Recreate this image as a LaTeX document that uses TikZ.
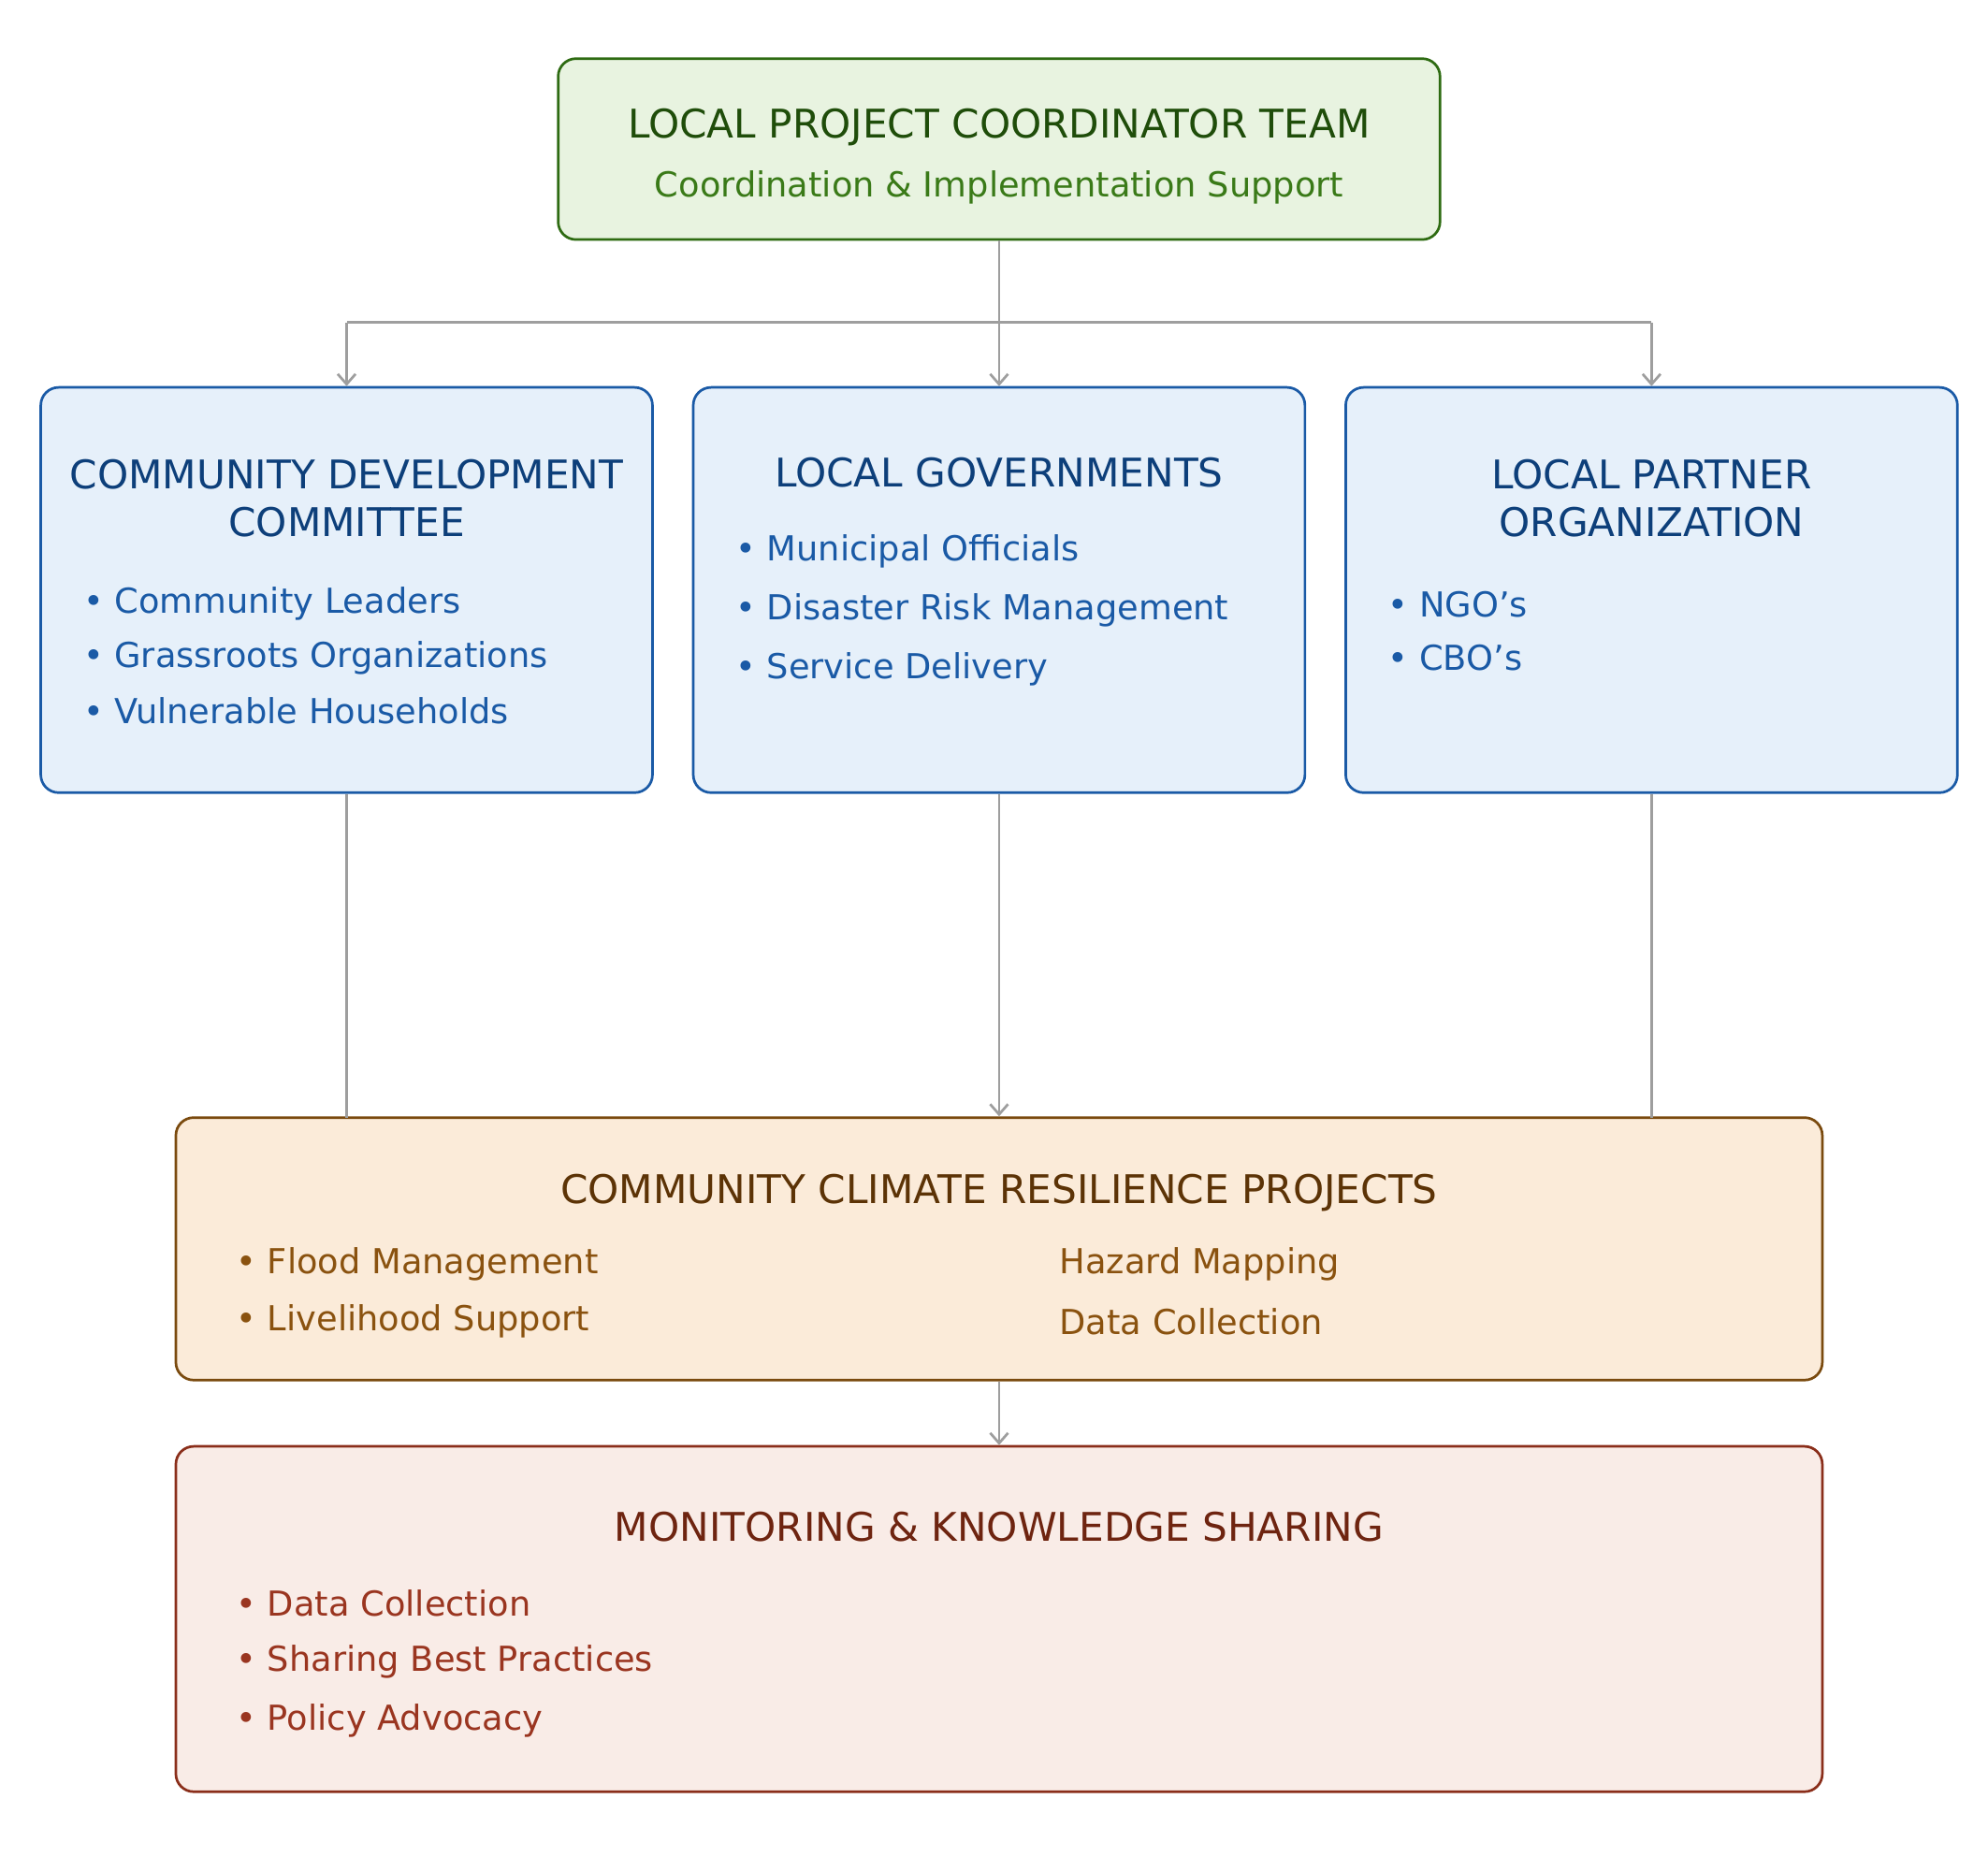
\documentclass[tikz,border=0pt]{standalone}
\usepackage{fontspec}
\setmainfont{DejaVu Sans}
\usetikzlibrary{arrows.meta}
\definecolor{gfill}{HTML}{E8F3E0}
\definecolor{gdraw}{HTML}{2E6B12}
\definecolor{gtext}{HTML}{1F4D0A}
\definecolor{gsub}{HTML}{3A7A18}
\definecolor{bfill}{HTML}{E6F0FA}
\definecolor{bdraw}{HTML}{1A5AA6}
\definecolor{btext}{HTML}{0D3F7A}
\definecolor{ofill}{HTML}{FBEBD9}
\definecolor{odraw}{HTML}{7A4A0E}
\definecolor{otext}{HTML}{5C3306}
\definecolor{obul}{HTML}{8A520F}
\definecolor{rfill}{HTML}{F9ECE7}
\definecolor{rdraw}{HTML}{8A2E1A}
\definecolor{rtext}{HTML}{6E2410}
\definecolor{rbul}{HTML}{9A3520}
\definecolor{conn}{HTML}{9E9E9E}
\tikzset{
  box/.style={rectangle, rounded corners=7pt, line width=1pt},
  ttl/.style={inner sep=0pt, font=\fontsize{15.5}{19}\selectfont, align=center},
  bul/.style={inner sep=0pt, anchor=west, font=\fontsize{13.5}{16}\selectfont},
  link/.style={draw=conn, line width=1pt},
  arr/.style={link, -{Straight Barb[length=4pt,width=7pt]}}
}
\begin{document}
\begin{tikzpicture}[x=0.5pt, y=-0.5pt]
\useasboundingbox (0,0) rectangle (1560,1468);
% boxes
\node (top) [box, fill=gfill, draw=gdraw, minimum width=346pt, minimum height=71pt] at (784,117) {};
\node (cdc) [box, fill=bfill, draw=bdraw, minimum width=240pt, minimum height=159pt] at (272,463) {};
\node (lg) [box, fill=bfill, draw=bdraw, minimum width=240pt, minimum height=159pt] at (784,463) {};
\node (lpo) [box, fill=bfill, draw=bdraw, minimum width=240pt, minimum height=159pt] at (1296,463) {};
\node (ccr) [box, fill=ofill, draw=odraw, minimum width=646pt, minimum height=103pt] at (784,980) {};
\node (mks) [box, fill=rfill, draw=rdraw, minimum width=646pt, minimum height=135.5pt] at (784,1270.5) {};
% texts
\node (toptitle) [ttl, text=gtext] at (784,100) {LOCAL PROJECT COORDINATOR TEAM};
\node (topsub) [ttl, text=gsub, font=\fontsize{13.5}{16}\selectfont] at (784,147) {Coordination \& Implementation Support};
\node (cdctitle) [ttl, text=btext] at (272,391) {COMMUNITY DEVELOPMENT\\COMMITTEE};
\node [bul, text=bdraw] at (65,474) {• Community Leaders};
\node [bul, text=bdraw] at (65,516) {• Grassroots Organizations};
\node [bul, text=bdraw] at (65,558) {• Vulnerable Households};
\node (lgtitle) [ttl, text=btext] at (784,371) {LOCAL GOVERNMENTS};
\node [bul, text=bdraw] at (577,433) {• Municipal Officials};
\node [bul, text=bdraw] at (577,479) {• Disaster Risk Management};
\node [bul, text=bdraw] at (577,525) {• Service Delivery};
\node (lpotitle) [ttl, text=btext] at (1296,391) {LOCAL PARTNER\\ORGANIZATION};
\node [bul, text=bdraw] at (1089,474) {• NGO's};
\node [bul, text=bdraw] at (1089,516) {• CBO's};
\node (ccrtitle) [ttl, text=otext] at (784,936) {COMMUNITY CLIMATE RESILIENCE PROJECTS};
\node [bul, text=obul] at (185,992) {• Flood Management};
\node [bul, text=obul] at (185,1037) {• Livelihood Support};
\node [bul, text=obul] at (831,992) {Hazard Mapping};
\node [bul, text=obul] at (831,1037) {Data Collection};
\node (mkstitle) [ttl, text=rtext] at (784,1198) {MONITORING \& KNOWLEDGE SHARING};
\node [bul, text=rbul] at (185,1258) {• Data Collection};
\node [bul, text=rbul] at (185,1304) {• Sharing Best Practices};
\node [bul, text=rbul] at (185,1350) {• Policy Advocacy};
% connectors
\coordinate (jc) at (784,253);
\coordinate (jl) at (272,253);
\coordinate (jr) at (1296,253);
\coordinate (el) at (272,877);
\coordinate (er) at (1296,877);
\draw [link] (top.south) -- (jc);
\draw [link] (jl) -- (jr);
\draw [arr] (jl) -- (cdc.north);
\draw [arr] (jc) -- (lg.north);
\draw [arr] (jr) -- (lpo.north);
\draw [link] (cdc.south) -- (el);
\draw [arr] (lg.south) -- (ccr.north);
\draw [link] (lpo.south) -- (er);
\draw [arr] (ccr.south) -- (mks.north);
\end{tikzpicture}
\end{document}
